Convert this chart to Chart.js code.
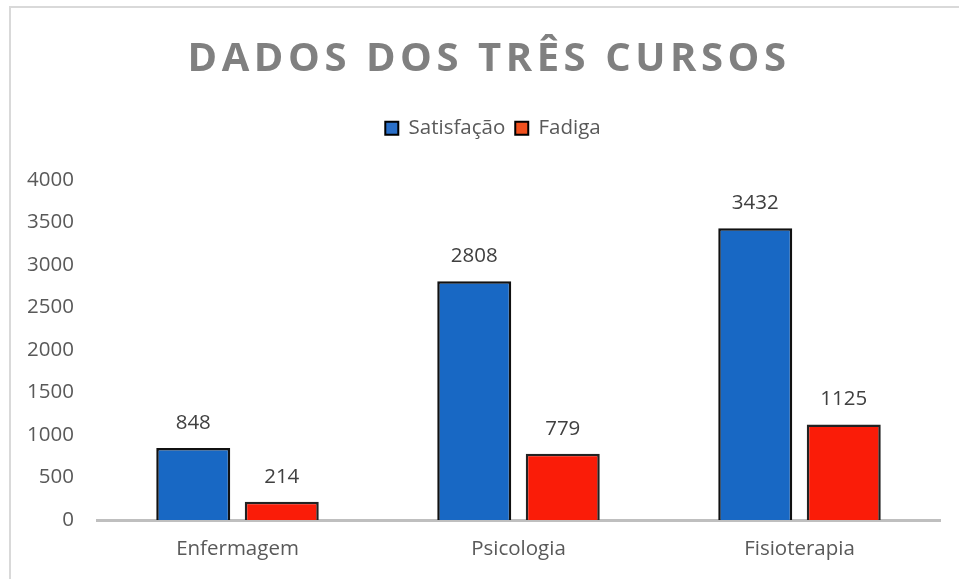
<!DOCTYPE html>
<html>
<head>
<meta charset="utf-8">
<script src="https://cdn.jsdelivr.net/npm/chart.js@4.4.1/dist/chart.umd.min.js"></script>
<style>
  html, body { margin: 0; padding: 0; background: #fff; overflow: hidden; }
  #frame { position: absolute; left: 9px; top: 6px; width: 1200px; height: 1200px; border: 2px solid #d9d9d9; box-sizing: border-box; }
  #wrap { position: absolute; left: 0; top: 0; width: 959px; height: 579px; }
</style>
</head>
<body>
<div id="frame"></div>
<div id="wrap"><canvas id="c" width="959" height="579"></canvas></div>
<script>
const titleText = 'DADOS DOS TRÊS CURSOS';
const categories = ['Enfermagem', 'Psicologia', 'Fisioterapia'];
const seriesNames = ['Satisfação', 'Fadiga'];
const satisfacao = [848, 2808, 3432];
const fadiga = [214, 779, 1125];
const yTicks = [0, 500, 1000, 1500, 2000, 2500, 3000, 3500, 4000];

const FONT = '"Open Sans", sans-serif';
const TXT = '#595959';

const layoutPatch = {
  id: 'layoutPatch',
  beforeLayout(chart) {
    if (chart.titleBlock && !chart.titleBlock._patched) {
      const tb = chart.titleBlock;
      const od = tb.draw;
      tb.draw = function() {
        const ctx = this.ctx;
        ctx.save();
        ctx.translate(19, 1);
        ctx.letterSpacing = '4.55px';
        od.apply(this, arguments);
        ctx.restore();
      };
      tb._patched = true;
    }
    if (chart.legend && !chart.legend._patched) {
      const lg = chart.legend;
      const of = lg.fit;
      lg.fit = function() {
        of.apply(this, arguments);
        this.height = 72;
      };
      const odl = lg.draw;
      lg.draw = function() {
        const ctx = this.ctx;
        ctx.save();
        ctx.translate(23, 0);
        odl.apply(this, arguments);
        ctx.restore();
      };
      lg._patched = true;
    }
  }
};

const dataLabels = {
  id: 'dataLabels',
  afterDatasetsDraw(chart) {
    const ctx = chart.ctx;
    ctx.save();
    ctx.font = '20.5px ' + FONT;
    ctx.fillStyle = '#404040';
    ctx.textAlign = 'center';
    ctx.textBaseline = 'middle';
    chart.data.datasets.forEach((ds, i) => {
      const meta = chart.getDatasetMeta(i);
      meta.data.forEach((bar, j) => {
        ctx.fillText(String(ds.data[j]), bar.x, bar.y - 25);
      });
    });
    ctx.restore();
  }
};

const legendColors = ['#2a6fc8', '#f0501e'];

new Chart(document.getElementById('c'), {
  type: 'bar',
  data: {
    labels: categories,
    datasets: [
      { label: seriesNames[0], data: satisfacao, backgroundColor: '#1868C4', borderColor: '#111', borderWidth: 2.5, categoryPercentage: 0.63, barPercentage: 0.836 },
      { label: seriesNames[1], data: fadiga, backgroundColor: '#FA1C08', borderColor: '#222', borderWidth: 2.5, categoryPercentage: 0.63, barPercentage: 0.836 }
    ]
  },
  options: {
    responsive: false,
    animation: false,
    layout: { padding: { left: 0, right: 19, top: 0, bottom: 0 } },
    plugins: {
      title: {
        display: true,
        text: titleText,
        color: '#808080',
        font: { family: FONT, size: 40, weight: 'bold', lineHeight: 1.2 },
        padding: { top: 35, bottom: 25 }
      },
      legend: {
        display: true,
        position: 'top',
        labels: {
          color: TXT,
          font: { family: FONT, size: 20.5 },
          boxWidth: 13,
          boxHeight: 13,
          padding: 10,
          generateLabels(chart) {
            return chart.data.datasets.map((ds, i) => ({
              text: ds.label,
              fillStyle: legendColors[i],
              strokeStyle: '#000',
              lineWidth: 2,
              datasetIndex: i,
              fontColor: TXT
            }));
          }
        }
      },
      tooltip: { enabled: false }
    },
    scales: {
      x: {
        grid: { display: false, drawTicks: false },
        border: { display: true, color: '#bfbfbf', width: 3 },
        ticks: { color: TXT, font: { family: FONT, size: 20.5 }, padding: 17 },
        afterFit(s) { s.height = 59; }
      },
      y: {
        min: 0,
        max: 4000,
        afterBuildTicks(s) { s.ticks = yTicks.map(v => ({ value: v })); },
        grid: { display: false, drawTicks: false },
        border: { display: false },
        ticks: { color: TXT, font: { family: FONT, size: 20.5 }, padding: 23, callback: v => String(v) },
        afterFit(s) { s.width = 97; }
      }
    }
  },
  plugins: [layoutPatch, dataLabels]
});
</script>
</body>
</html>
